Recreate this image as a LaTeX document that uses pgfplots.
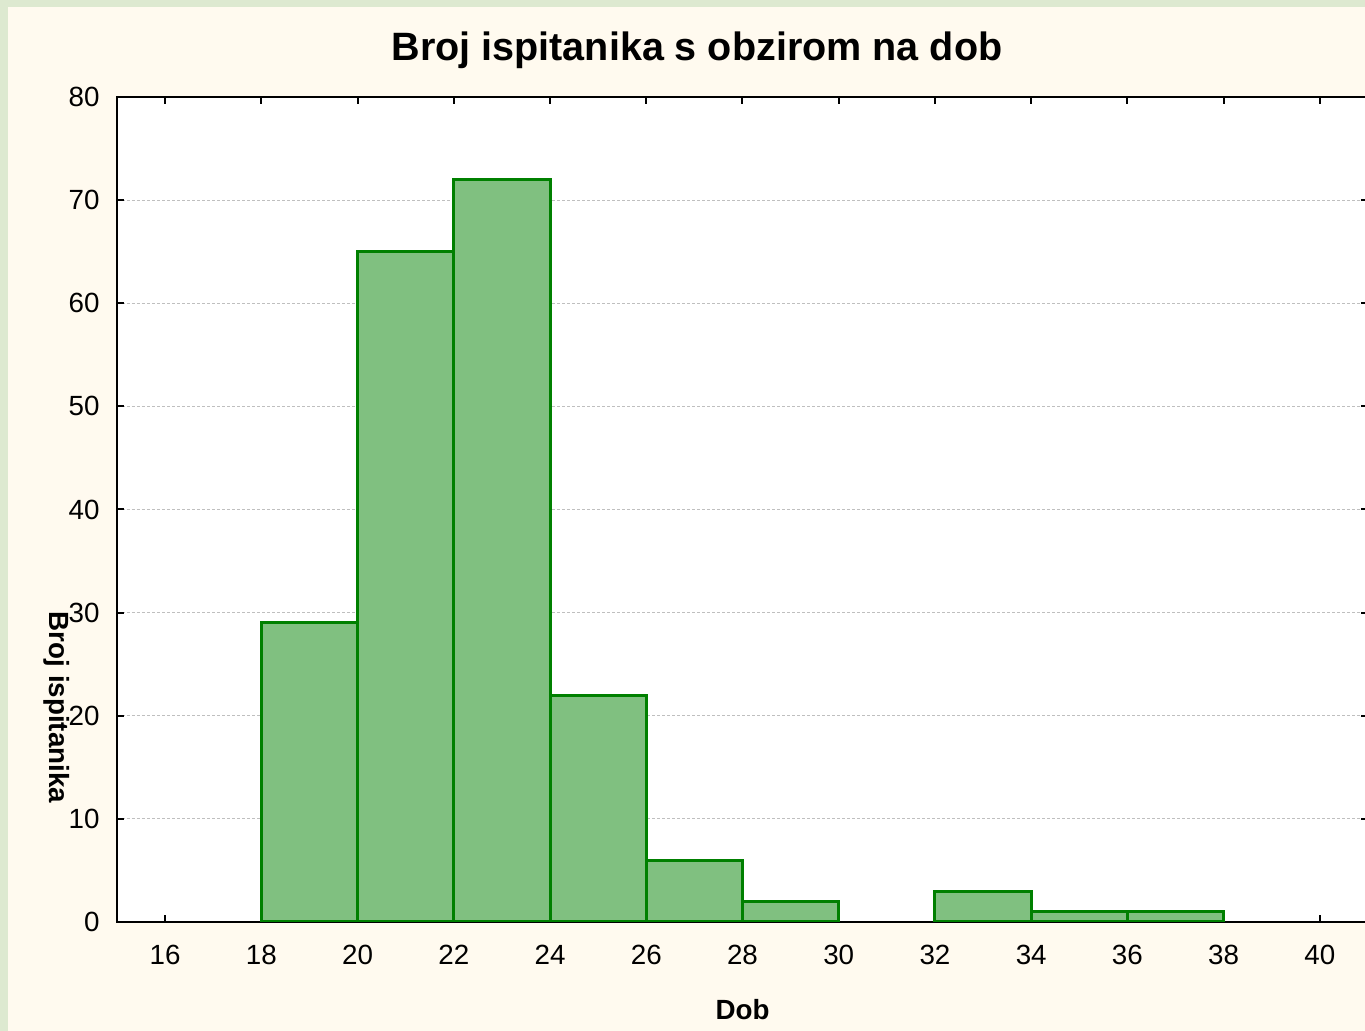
\documentclass[border=0pt]{standalone}
\usepackage{pgfplots}
\pgfplotsset{compat=1.18}
\usepackage{fontspec}
\setmainfont{Liberation Sans}
\definecolor{frame}{HTML}{DDE9D0}
\definecolor{cream}{HTML}{FFFAEF}
\definecolor{barfill}{HTML}{80C080}
\definecolor{baredge}{HTML}{008000}
\begin{document}
\begin{tikzpicture}[x=1cm,y=1cm]
\useasboundingbox (0,0) rectangle (13.65,10.31);
\fill[frame] (0,0) rectangle (13.65,10.31);
\fill[cream] (0.08,0) rectangle (13.65,10.24);
\begin{axis}[
 at={(1.17cm,1.09cm)}, anchor=south west, scale only axis,
 width=12.51cm, height=8.25cm,
 xmin=15, xmax=41, ymin=0, ymax=80,
 xtick={16,18,...,40}, ytick={0,10,...,80},
 tick align=inside, major tick length=0.07cm,
 axis line style={line width=0.02cm},
 every tick/.style={black, line width=0.02cm},
 ymajorgrids, grid style={dash pattern=on 0.03cm off 0.02cm, black!25, line width=0.01cm},
 axis background/.style={fill=white},
 tick label style={font=\fontsize{7.9}{9}\selectfont},
 /pgf/number format/assume math mode=true,
 xticklabel style={yshift=-0.11cm},
 yticklabel style={xshift=-0.05cm},
 every axis title shift=0pt,
 title={Broj ispitanika s obzirom na dob},
 title style={at={(axis description cs:0.4636,1.057)}, anchor=center, font=\bfseries\fontsize{11.25}{13}\selectfont},
 xlabel={Dob},
 xlabel style={at={(axis description cs:0.5,-0.1067)}, anchor=center, font=\bfseries\fontsize{7.9}{9}\selectfont},
 ylabel={Broj ispitanika},
 ylabel style={at={(axis description cs:-0.048,0.26)}, anchor=center, rotate=180, font=\bfseries\fontsize{7.9}{9}\selectfont},
]
\addplot[ybar interval, fill=barfill, draw=baredge, line width=0.03cm]
 coordinates {(18,29) (20,65) (22,72) (24,22) (26,6) (28,2) (30,0)};
\addplot[ybar interval, fill=barfill, draw=baredge, line width=0.03cm]
 coordinates {(32,3) (34,1) (36,1) (38,0)};
\end{axis}
\end{tikzpicture}
\end{document}
